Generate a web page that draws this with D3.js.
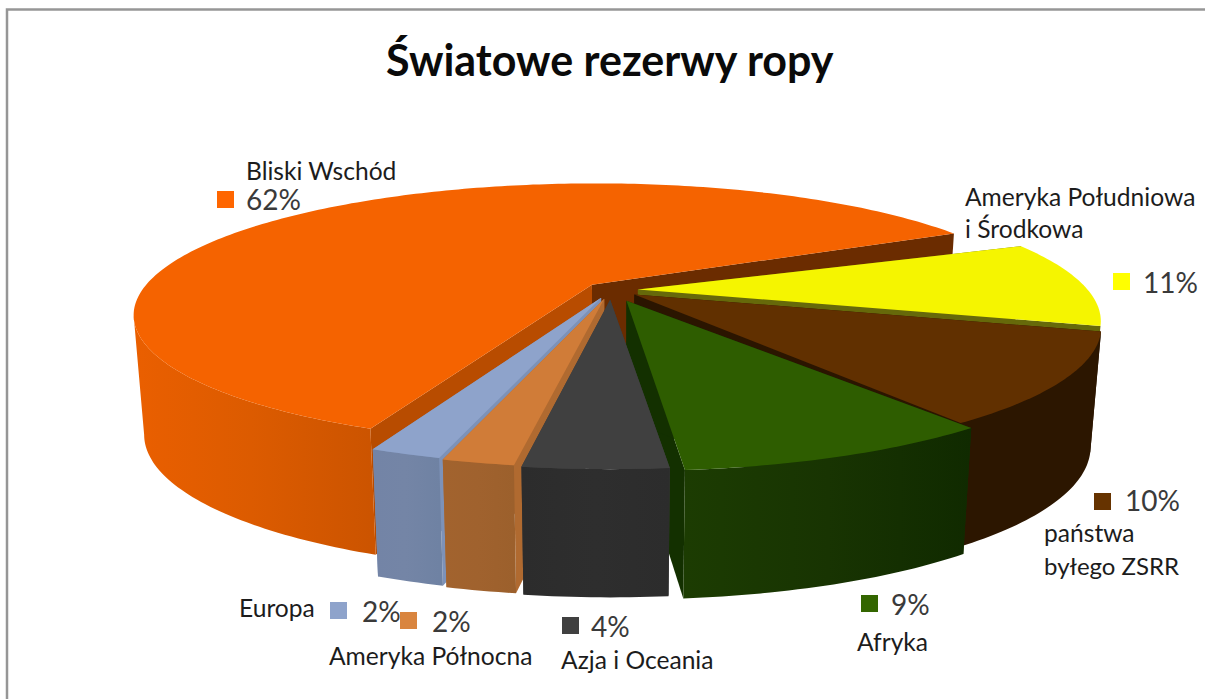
<!DOCTYPE html>
<html><head><meta charset="utf-8">
<script src="https://cdn.jsdelivr.net/npm/d3@7/dist/d3.min.js"></script>
<style>html,body{margin:0;padding:0;background:#fff;overflow:hidden}svg{display:block}</style>
</head><body><svg id="c" width="1205" height="699"></svg>
<script>
const categories=["Bliski Wschód","Ameryka Południowa i Środkowa","państwa byłego ZSRR","Afryka","Azja i Oceania","Ameryka Północna","Europa"];
const values=[62,11,10,9,4,2,2];
const topColors=["#f56300","#f5f500","#613000","#2e5d00","#404040","#d07c38","#8ea3cb"];
const swatchColors=["#ff6600","#ffff00","#663300","#336600","#404040","#d9853f","#8ea3cb"];
const wallStart=["#ea5f00","#3a3a05","#2c1600","#1c3c02","#2c2c2c","#a2632e","#7384a6"];
const wallMid=["#dc5b00","#3a3a05","#2c1600","#183402","#2e2e2e","#a0622e","#7485a6"];
const wallEnd=["#cc5400","#3a3a05","#2c1600","#102a00","#2c2c2c","#9c602c","#6f82a3"];
const cutColorsEnd=["#6b2c00","#66690a","#2b1500","#133000","#3c3c3c","#b06a30","#7d92b8"];
const cutColorsStart=["#b84c00","#66690a","#2b1500","#133000","#3c3c3c","#b06a30","#7d92b8"];
const drawOrder=[0,1,2,3,6,5,4];
const explode=[0.06,0.06,0.062,0.09,0.075,0.07,0.065];
const startTrim=[-0.3,2,0,0.7,0,0,0];
const endTrim=[3.3,0,-3,-0.6,0,0,0];

const W=1205,H=699,deg=Math.PI/180;
const svg=d3.select("#c");
svg.append("rect").attr("width",W).attr("height",H).attr("fill","#fff");
svg.append("rect").attr("x",7).attr("y",9.5).attr("width",W+20).attr("height",H+20)
  .attr("fill","none").attr("stroke","#969696").attr("stroke-width",2.5);

const D=4.44,wallH=118;
const sx=d3.scaleLinear().domain([-1,1]).range([611-450,611+450]);
const sy=d3.scaleLinear().domain([-1,1]).range([290+126.3,290-126.3]);
const proj=(x,z,h=0)=>{const s=D/(D+z),lean=1-0.022*h/wallH;return [sx(x*s*lean),sy(z*s)+h*Math.pow(s,0.3)];};
const line=d3.line();
const rot=203*deg;
const pie=d3.pie().sort(null).startAngle(rot).endAngle(rot+2*Math.PI);
const arcs=pie(values);
const defs=svg.append("defs");
const g=svg.append("g");

drawOrder.forEach(i=>{
  const a=arcs[i],mid=(a.startAngle+a.endAngle)/2,e=explode[i];
  const a0=a.startAngle+startTrim[i]*deg,a1=a.endAngle-endTrim[i]*deg;
  const ox=e*Math.sin(mid),oz=e*Math.cos(mid);
  const n=Math.max(6,Math.ceil((a1-a0)/(1*deg)));
  const rim=d3.range(n+1).map(k=>a0+k/n*(a1-a0));
  const at=(th,h)=>proj(ox+Math.sin(th),oz+Math.cos(th),h);
  const apex=h=>proj(ox,oz,h);
  const top=rim.map(t=>at(t,0));
  // the outer wall runs only as far as the leftmost point of the projected rim
  const front=rim.slice(0,d3.scan(top,(p,q)=>p[0]-q[0])+1);
  const wallTop=front.map(t=>at(t,0)), wallBottom=front.map(t=>at(t,wallH));
  const xs=wallTop.map(p=>p[0]);
  const gid="w"+i;
  const gr=defs.append("linearGradient").attr("id",gid).attr("gradientUnits","userSpaceOnUse")
    .attr("x1",d3.min(xs)).attr("x2",d3.max(xs)).attr("y1",0).attr("y2",0);
  gr.append("stop").attr("offset",0).attr("stop-color",wallStart[i]);
  gr.append("stop").attr("offset",0.5).attr("stop-color",wallMid[i]);
  gr.append("stop").attr("offset",1).attr("stop-color",wallEnd[i]);
  // cut faces first, then outer wall, then the top
  g.append("path").attr("d",line([apex(0),at(a1,0),at(a1,wallH),apex(wallH)])+"Z").attr("fill",cutColorsEnd[i]);
  g.append("path").attr("d",line([apex(0),at(a0,0),at(a0,wallH),apex(wallH)])+"Z").attr("fill",cutColorsStart[i]);
  if(front.length>1) g.append("path").attr("d",line(wallTop.concat(wallBottom.slice().reverse()))+"Z").attr("fill",`url(#${gid})`);
  g.append("path").attr("d",line([apex(0)].concat(top))+"Z").attr("fill",topColors[i]);
});

const font="Lato, Carlito, 'Open Sans', sans-serif";
const txt=(s,x,y,size,fill,w)=>svg.append("text").attr("x",x).attr("y",y).attr("font-family",font)
  .attr("font-size",size).attr("font-weight",w||400).attr("fill",fill).text(s);
txt("Światowe rezerwy ropy",386,76,43,"#0a0a0a",700);

const labelFill="#1c1c1c",pctFill="#3a3a3a",ls=24.6,ps=28;
const pct=v=>v+"%";
const sw=(i,x,y)=>svg.append("rect").attr("x",x).attr("y",y).attr("width",17).attr("height",17).attr("fill",swatchColors[i]);
txt(categories[0],246,180,ls,labelFill); sw(0,217,191); txt(pct(values[0]),246,210,ps,pctFill);
txt("Ameryka Południowa",965,206,ls,labelFill); txt("i Środkowa",965,238,ls,labelFill);
sw(1,1113,273); txt(pct(values[1]),1143,293,ps,pctFill);
sw(2,1094,493); txt(pct(values[2]),1125,511,ps,pctFill);
txt("państwa",1044,542,ls,labelFill); txt("byłego ZSRR",1044,575,24,labelFill);
sw(3,861,595); txt(pct(values[3]),891,615,ps,pctFill); txt(categories[3],857,651,ls,labelFill);
sw(4,562,617); txt(pct(values[4]),591,637,ps,pctFill); txt(categories[4],561,669,ls,labelFill);
sw(5,400,612); txt(pct(values[5]),432,632,ps,pctFill); txt(categories[5],329,665,ls,labelFill);
txt(categories[6],239,617,ls,labelFill); sw(6,330,602); txt(pct(values[6]),362,622,ps,pctFill);
</script></body></html>
